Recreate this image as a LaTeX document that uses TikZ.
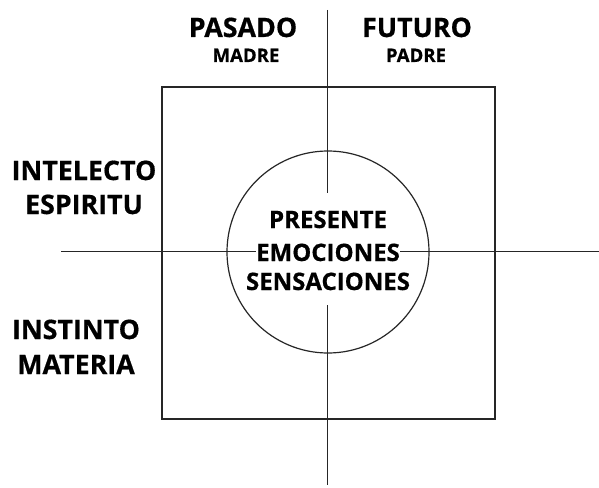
\documentclass[tikz,border=0pt]{standalone}
\usepackage{fontspec}
\setmainfont{Open Sans}[BoldFeatures={FakeBold=0.6}]
\usepackage{tikz}
\usetikzlibrary{positioning}

\tikzset{
  grande/.style={anchor=base,inner sep=0pt,font=\bfseries\fontsize{26.8}{32}\selectfont},
  medio/.style={anchor=base,inner sep=0pt,font=\bfseries\fontsize{24}{29}\selectfont},
  chico/.style={anchor=base,inner sep=0pt,font=\bfseries\fontsize{18.6}{22}\selectfont},
  eje/.style={line width=1.2pt,draw=black!85},
}

\begin{document}
\begin{tikzpicture}[x=1pt,y=-1pt]
\useasboundingbox (0,0) rectangle (599,487);
% cuadro y circulo
\draw[eje] (162,87) rectangle (495,419);
\node[eje,draw,circle,minimum size=202pt,inner sep=0pt] (centro) at (328,252) {};
% textos
\node[grande] (pasado) at (243,37) {PASADO};
\node[chico] (madre) at (246,62) {MADRE};
\node[grande] (futuro) at (417,37) {FUTURO};
\node[chico] (padre) at (416,62) {PADRE};
\node[grande] (intelecto) at (84,180) {INTELECTO};
\node[grande] (espiritu) at (84,214) {ESPIRITU};
\node[grande] (instinto) at (76,339) {INSTINTO};
\node[grande] (materia) at (76,374) {MATERIA};
\node[medio] (presente) at (328,228) {PRESENTE};
\node[medio] (emociones) at (328,261) {EMOCIONES};
\node[medio] (sensaciones) at (328,290) {SENSACIONES};
% ejes
\coordinate (ejeN) at (327.5,10);
\coordinate (ejeS) at (327.5,485);
\coordinate (ejeO) at (61,251.5);
\coordinate (ejeE) at (599,251.5);
\coordinate (corteN) at (327.5,193);
\coordinate (corteS) at (327.5,305);
\draw[eje] (ejeN) -- (corteN);
\draw[eje] (corteS) -- (ejeS);
\draw[eje] (ejeO) -- (ejeO -| emociones.west);
\draw[eje] (ejeE -| emociones.east) -- (ejeE);
\end{tikzpicture}
\end{document}
